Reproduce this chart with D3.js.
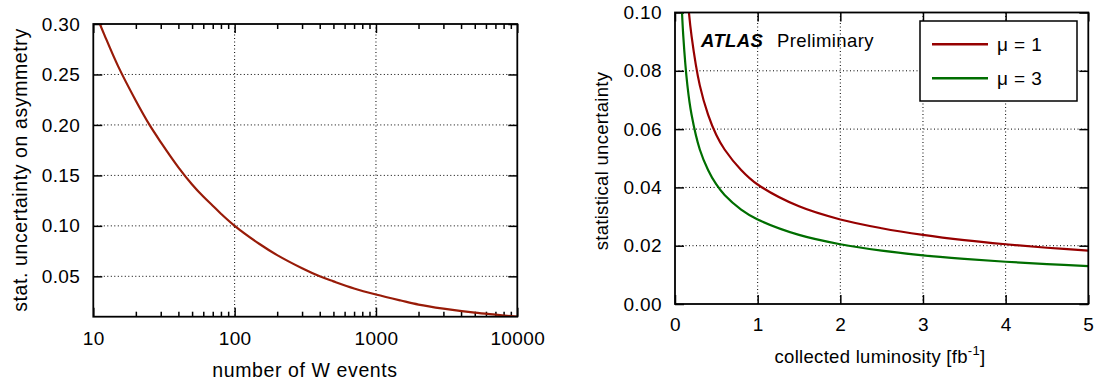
<!DOCTYPE html>
<html><head><meta charset="utf-8">
<script src="https://cdn.jsdelivr.net/npm/d3@7"></script>
<style>
body{margin:0;background:#fff;}
svg{display:block;font-family:"Liberation Sans",Arial,sans-serif;}
.tick text{font-size:19px;letter-spacing:0.4px;fill:#000;}
.domain{display:none;}
.grid line{stroke:#000;stroke-width:1;stroke-dasharray:1,2.5;}
</style></head>
<body><svg id="c" width="1097" height="385"></svg>
<script>
// ---- data: left panel ----
const wEvents = [10, 12, 15, 20, 25, 30, 40, 50, 60, 70, 80, 100, 150, 200, 300, 400, 500, 700, 1000, 1500, 2000, 3000, 5000, 7000, 10000];
const wUncert = [0.316, 0.289, 0.258, 0.224, 0.200, 0.183, 0.158, 0.141, 0.129, 0.120, 0.112, 0.100, 0.082, 0.071, 0.058, 0.050, 0.045, 0.038, 0.032, 0.026, 0.022, 0.018, 0.014, 0.012, 0.010];
const leftXTicks = [10, 100, 1000, 10000];
const leftXMinor = [20,30,40,50,60,70,80,90,200,300,400,500,600,700,800,900,2000,3000,4000,5000,6000,7000,8000,9000];
const leftYTicks = [0.05, 0.10, 0.15, 0.20, 0.25, 0.30];
// ---- data: right panel ----
const lumi = [0.07, 0.1, 0.15, 0.2, 0.3, 0.4, 0.5, 0.6, 0.8, 1, 1.5, 2, 2.5, 3, 3.5, 4, 4.5, 5];
const mu1 = [0.155, 0.130, 0.106, 0.092, 0.075, 0.065, 0.058, 0.053, 0.046, 0.041, 0.0335, 0.029, 0.026, 0.0237, 0.0219, 0.0205, 0.0193, 0.0183];
const mu3 = [0.110, 0.092, 0.075, 0.065, 0.053, 0.046, 0.041, 0.0374, 0.0324, 0.029, 0.0237, 0.0205, 0.0183, 0.0167, 0.0155, 0.0145, 0.0137, 0.013];
const rightXTicks = [0, 1, 2, 3, 4, 5];
const rightYTicks = [0.00, 0.02, 0.04, 0.06, 0.08, 0.10];
const seriesNames = ["\u03bc = 1", "\u03bc = 3"];
const seriesColors = ["#960000", "#006e00"];

const svg = d3.select("#c");

function panel(o){
  const g = svg.append("g");
  const x = o.x, y = o.y;
  const [x0,x1] = x.range(), [y1,y0] = y.range();
  g.append("clipPath").attr("id", o.id).append("rect")
    .attr("x", x0).attr("y", y0).attr("width", x1-x0).attr("height", y1-y0);
  const grid = g.append("g").attr("class","grid");
  grid.selectAll("line.v").data(o.xGrid).join("line").attr("class","v")
    .attr("x1", d=>x(d)).attr("x2", d=>x(d)).attr("y1", y0).attr("y2", y1);
  grid.selectAll("line.h").data(o.yGrid).join("line").attr("class","h")
    .attr("y1", d=>y(d)).attr("y2", d=>y(d)).attr("x1", x0).attr("x2", x1);
  g.append("g").attr("transform",`translate(0,${y1})`)
    .call(d3.axisBottom(x).tickValues(o.xTicks).tickFormat(o.xFmt).tickSizeInner(-9).tickSizeOuter(0).tickPadding(o.xPad));
  g.append("g").attr("transform",`translate(0,${y0})`)
    .call(d3.axisTop(x).tickValues(o.xTicks).tickFormat("").tickSizeInner(-9).tickSizeOuter(0));
  if(o.xMinor){
    g.append("g").attr("transform",`translate(0,${y1})`)
      .call(d3.axisBottom(x).tickValues(o.xMinor).tickFormat("").tickSizeInner(-5).tickSizeOuter(0));
    g.append("g").attr("transform",`translate(0,${y0})`)
      .call(d3.axisTop(x).tickValues(o.xMinor).tickFormat("").tickSizeInner(-5).tickSizeOuter(0));
  }
  g.append("g").attr("transform",`translate(${x0},0)`)
    .call(d3.axisLeft(y).tickValues(o.yTicks).tickFormat(o.yFmt).tickSizeInner(-9).tickSizeOuter(0).tickPadding(13));
  g.append("g").attr("transform",`translate(${x1},0)`)
    .call(d3.axisRight(y).tickValues(o.yTicks).tickFormat("").tickSizeInner(-9).tickSizeOuter(0));
  g.selectAll(".tick line").attr("stroke","#000").attr("stroke-width",1.5);
  const line = d3.line().x(d=>x(d[0])).y(d=>y(d[1])).curve(d3.curveCatmullRom.alpha(0.5));
  const cg = g.append("g").attr("clip-path",`url(#${o.id})`);
  o.series.forEach(s=>{
    cg.append("path").datum(s.xs.map((v,i)=>[v, s.ys[i]]))
      .attr("d", line).attr("fill","none").attr("stroke", s.color).attr("stroke-width", 2.2);
  });
  return g;
}

// Left panel
const xL = d3.scaleLog().domain([10,10000]).range([93.3,517.3]);
const yL = d3.scaleLinear().domain([0.01,0.30]).range([316.7,24]);
const gL = panel({id:"clipL", x:xL, y:yL, xTicks:leftXTicks, xMinor:leftXMinor,
  xGrid:[100,1000], yGrid:[0.05,0.10,0.15,0.20,0.25], yTicks:leftYTicks,
  xFmt:d3.format("d"), yFmt:d3.format(".2f"), xPad:15,
  series:[{xs:wEvents, ys:wUncert, color:"#981b08"}]});
gL.append("rect").attr("x",93.3).attr("y",24).attr("width",517.3-93.3).attr("height",316.7-24)
  .attr("fill","none").attr("stroke","#000").attr("stroke-width",1.8);
gL.append("text").attr("transform","translate(20,170) rotate(-90)").attr("text-anchor","middle")
  .attr("dy","0.35em").style("font-size","19.5px").style("letter-spacing","0.6px")
  .text("stat. uncertainty on asymmetry");
gL.append("text").attr("x",305).attr("y",377).attr("text-anchor","middle")
  .style("font-size","19.5px").style("letter-spacing","0.6px").text("number of W events");

// Right panel
const xR = d3.scaleLinear().domain([0,5]).range([675,1088.3]);
const yR = d3.scaleLinear().domain([0,0.10]).range([304,12.5]);
const gR = panel({id:"clipR", x:xR, y:yR, xTicks:rightXTicks,
  xGrid:[1,2,3,4], yGrid:[0.02,0.04,0.06,0.08], yTicks:rightYTicks,
  xFmt:d3.format("d"), yFmt:d3.format(".2f"), xPad:14,
  series:[{xs:lumi, ys:mu1, color:seriesColors[0]},{xs:lumi, ys:mu3, color:seriesColors[1]}]});
gR.append("rect").attr("x",675).attr("y",12.5).attr("width",1088.3-675).attr("height",304-12.5)
  .attr("fill","none").attr("stroke","#000").attr("stroke-width",1.8);
gR.append("text").attr("transform","translate(602,161) rotate(-90)").attr("text-anchor","middle")
  .attr("dy","0.35em").style("font-size","18.5px").style("letter-spacing","0.3px")
  .text("statistical uncertainty");
const xt = gR.append("text").attr("x",880).attr("y",363).attr("text-anchor","middle")
  .style("font-size","18.5px").style("letter-spacing","0.3px");
xt.append("tspan").text("collected luminosity [fb");
xt.append("tspan").attr("dy",-8).style("font-size","13px").text("-1");
xt.append("tspan").attr("dy",8).text("]");
// ATLAS label
const at = gR.append("text").attr("x",701).attr("y",46.5).style("font-size","18.5px");
at.append("tspan").style("font-weight","bold").style("font-style","italic").style("letter-spacing","0.4px").text("ATLAS");
at.append("tspan").attr("x",777).style("letter-spacing","0.4px").text("Preliminary");
// legend
const lg = gR.append("g");
lg.append("rect").attr("x",920).attr("y",21).attr("width",157).attr("height",80)
  .attr("fill","#fff").attr("stroke","#000").attr("stroke-width",1.5);
const ent = lg.selectAll("g.e").data(seriesNames).join("g").attr("class","e")
  .attr("transform",(d,i)=>`translate(0,${44.3+i*34})`);
ent.append("line").attr("x1",932).attr("x2",988).attr("stroke",(d,i)=>seriesColors[i]).attr("stroke-width",2.5);
ent.append("text").attr("x",997).attr("dy","0.36em").style("font-size","19px").style("letter-spacing","0.4px").text(d=>d);
</script></body></html>
